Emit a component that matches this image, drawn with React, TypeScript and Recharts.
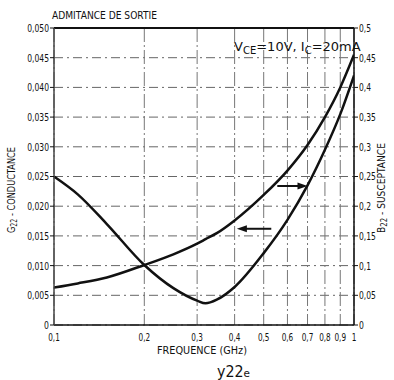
import {
  LineChart,
  Line,
  XAxis,
  YAxis,
  CartesianGrid,
  ReferenceLine,
} from "recharts";

const freq = [0.1, 0.12, 0.15, 0.2, 0.25, 0.3, 0.32, 0.35, 0.4, 0.5, 0.6, 0.7, 0.8, 0.9, 1];
const conductance = [
  0.0063, 0.007, 0.008, 0.0101, 0.0119, 0.0137, 0.01445, 0.0155, 0.0176, 0.0219, 0.026,
  0.0303, 0.035, 0.04, 0.0455,
];
const susceptance = [
  0.25, 0.22, 0.17, 0.101, 0.062, 0.041, 0.0365, 0.043, 0.064, 0.121, 0.177, 0.235, 0.295,
  0.355, 0.42,
];

const freqTicks = [0.1, 0.2, 0.3, 0.4, 0.5, 0.6, 0.7, 0.8, 0.9, 1];
const gTicks = [0, 0.005, 0.01, 0.015, 0.02, 0.025, 0.03, 0.035, 0.04, 0.045, 0.05];
const bTicks = [0, 0.05, 0.1, 0.15, 0.2, 0.25, 0.3, 0.35, 0.4, 0.45, 0.5];

const data = freq.map((f, i) => ({ f, g: conductance[i], b: susceptance[i] }));

const FONT = "'DejaVu Sans', sans-serif";

const comma = (s: string) => s.replace(".", ",");
const fmtX = (v: number) => comma(String(v));
const fmtG = (v: number) => (v === 0 ? "0" : comma(v.toFixed(3)));
const fmtB = (v: number) => (v === 0 ? "0" : comma(String(+v.toFixed(2))));

// condensed-looking tick text, squeezed to the width the scan shows
const narrow = (fmt: (v: number) => string, size = 11, digit = 4.9) => (props: any) => {
  const { x, y, payload, textAnchor, verticalAnchor } = props;
  const s = fmt(payload.value);
  const w = s.replace(",", "").length * digit + (s.includes(",") ? 2.2 : 0);
  return (
    <text
      x={x}
      y={y}
      dy={verticalAnchor === "start" ? "0.75em" : "0.36em"}
      textAnchor={textAnchor}
      fontSize={size}
      fontFamily={FONT}
      fill="#111"
      textLength={w}
      lengthAdjust="spacingAndGlyphs"
    >
      {s}
    </text>
  );
};

// arrow drawn on a reference segment, head at the second point
const Arrow = (props: any) => {
  const { x1, y1, x2, y2 } = props;
  const dir = x2 > x1 ? 1 : -1;
  return (
    <g>
      <line x1={x1} y1={y1} x2={x2 - dir * 6} y2={y2} stroke="#111" strokeWidth={2} />
      <polygon
        points={`${x2},${y2} ${x2 - dir * 10},${y2 - 3.5} ${x2 - dir * 10},${y2 + 3.5}`}
        fill="#111"
      />
    </g>
  );
};

export default function App() {
  return (
    <div style={{ position: "absolute", left: 0, top: 0, width: 394, height: 380, background: "#fff" }}>
      <LineChart
        width={394}
        height={380}
        data={data}
        margin={{ top: 28, right: 0, bottom: 33, left: 0 }}
      >
        <CartesianGrid
          yAxisId="g"
          vertical={false}
          horizontalValues={gTicks}
          stroke="#666"
          strokeDasharray="9 4 2 4"
        />
        <CartesianGrid
          yAxisId="g"
          horizontal={false}
          verticalValues={freqTicks}
          stroke="#777"
          strokeDasharray="14 3 2 3"
        />
        <XAxis
          dataKey="f"
          type="number"
          scale="log"
          domain={[0.1, 1]}
          ticks={freqTicks}
          interval={0}
          tick={narrow(fmtX, 10, 4.7)}
          tickLine={false}
          tickMargin={2}
          height={22}
          axisLine={{ stroke: "#111", strokeWidth: 1.5 }}
          allowDataOverflow
        />
        <YAxis
          yAxisId="g"
          domain={[0, 0.05]}
          ticks={gTicks}
          interval={0}
          tick={narrow(fmtG)}
          tickSize={4}
          tickMargin={1}
          width={54}
          axisLine={{ stroke: "#444", strokeWidth: 1.5 }}
          tickLine={{ stroke: "#111" }}
        />
        <YAxis
          yAxisId="b"
          orientation="right"
          domain={[0, 0.5]}
          ticks={bTicks}
          interval={0}
          tick={narrow(fmtB)}
          tickSize={4}
          tickMargin={1}
          width={40}
          axisLine={{ stroke: "#111", strokeWidth: 1.5 }}
          tickLine={{ stroke: "#111" }}
        />
        <ReferenceLine yAxisId="g" y={0.05} stroke="#111" strokeWidth={2} />
        <Line
          yAxisId="g"
          type="monotone"
          dataKey="g"
          stroke="#111"
          strokeWidth={2.5}
          dot={false}
          isAnimationActive={false}
        />
        <Line
          yAxisId="b"
          type="monotone"
          dataKey="b"
          stroke="#111"
          strokeWidth={2.5}
          dot={false}
          isAnimationActive={false}
        />
        <ReferenceLine
          yAxisId="g"
          segment={[
            { x: 0.53, y: 0.0162 },
            { x: 0.407, y: 0.0162 },
          ]}
          shape={Arrow}
        />
        <ReferenceLine
          yAxisId="g"
          segment={[
            { x: 0.555, y: 0.0234 },
            { x: 0.7, y: 0.0234 },
          ]}
          shape={Arrow}
        />
      </LineChart>
      <svg
        width={394}
        height={380}
        style={{ position: "absolute", left: 0, top: 0, pointerEvents: "none" }}
        fontFamily={FONT}
        fill="#111"
      >
        <text x={52} y={19} fontSize={10} textLength={105} lengthAdjust="spacingAndGlyphs">
          ADMITANCE DE SORTIE
        </text>
        <text x={234} y={51} fontSize={13}>
          V<tspan fontSize={10} dy={3}>CE</tspan>
          <tspan dy={-3}>=10V, I</tspan>
          <tspan fontSize={10} dy={3}>C</tspan>
          <tspan dy={-3}>=20mA</tspan>
        </text>
        <text
          x={15}
          y={190}
          fontSize={10.5}
          textAnchor="middle"
          transform="rotate(-90 15 190)"
          textLength={86}
          lengthAdjust="spacingAndGlyphs"
        >
          G<tspan fontSize={8} dy={2}>22</tspan>
          <tspan dy={-2}>{" - CONDUCTANCE"}</tspan>
        </text>
        <text
          x={385}
          y={188}
          fontSize={10.5}
          textAnchor="middle"
          transform="rotate(-90 385 188)"
          textLength={90}
          lengthAdjust="spacingAndGlyphs"
        >
          B<tspan fontSize={8} dy={2}>22</tspan>
          <tspan dy={-2}>{" - SUSCEPTANCE"}</tspan>
        </text>
        <text x={157} y={354} fontSize={11} textLength={90} lengthAdjust="spacingAndGlyphs">
          FREQUENCE (GHz)
        </text>
        <text x={217} y={377} fontSize={15} textLength={33} lengthAdjust="spacingAndGlyphs">
          y22<tspan fontSize={11}>e</tspan>
        </text>
      </svg>
    </div>
  );
}
